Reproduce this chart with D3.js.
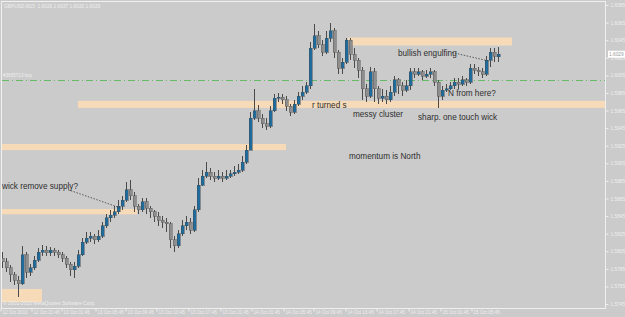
<!DOCTYPE html>
<html><head><meta charset="utf-8">
<script src="https://cdn.jsdelivr.net/npm/d3@7"></script>
<style>html,body{margin:0;padding:0;background:#cbcbcb;overflow:hidden}svg{display:block}</style>
</head><body><svg id="c" width="625" height="317"></svg>
<script>
const symbolTitle = "GBPUSD,M15  1.6026 1.6037 1.6020 1.6029";
const copyrightText = "\u00a9 2001-2010 MetaQuotes Software Corp.";
const orderText = "#3685713 buy";

const openPrices = [1.5797,1.5793,1.5786,1.5778,1.5772,1.5768,1.5801,1.5781,1.5786,1.5795,
 1.5804,1.5806,1.5803,1.5806,1.5804,1.5801,1.5797,1.5790,1.5784,1.5788,
 1.5801,1.5815,1.5820,1.5822,1.5818,1.5822,1.5834,1.5843,1.5846,1.5850,
 1.5856,1.5863,1.5875,1.5868,1.5856,1.5852,1.5861,1.5854,1.5850,1.5845,
 1.5840,1.5838,1.5836,1.5818,1.5811,1.5825,1.5834,1.5838,1.5829,1.5852,
 1.5880,1.5890,1.5895,1.5890,1.5888,1.5890,1.5888,1.5890,1.5893,1.5895,
 1.5897,1.5906,1.5920,1.5956,1.5965,1.5956,1.5950,1.5947,1.5965,1.5979,
 1.5980,1.5977,1.5970,1.5963,1.5972,1.5981,1.5986,1.5993,1.6036,1.6050,
 1.6040,1.6031,1.6047,1.6056,1.6031,1.6013,1.6020,1.6045,1.6029,1.6022,
 1.6011,1.5990,1.5981,1.6009,1.5990,1.5979,1.5981,1.5977,1.5986,1.6000,
 1.5993,1.5988,1.5993,1.6009,1.6006,1.6009,1.6004,1.6006,1.6009,1.5997,
 1.5981,1.5988,1.5990,1.5993,1.5997,1.5995,1.6000,1.5997,1.6013,1.6011,
 1.6009,1.6006,1.6022,1.6031,1.6026];
const highPrices = [1.5804,1.5797,1.5789,1.5781,1.5777,1.5811,1.5804,1.5790,1.5800,1.5809,
 1.5812,1.5811,1.5810,1.5809,1.5806,1.5804,1.5800,1.5793,1.5793,1.5806,
 1.5820,1.5827,1.5827,1.5825,1.5829,1.5838,1.5847,1.5852,1.5856,1.5863,
 1.5868,1.5884,1.5886,1.5872,1.5859,1.5865,1.5865,1.5856,1.5852,1.5850,
 1.5845,1.5843,1.5838,1.5822,1.5829,1.5840,1.5845,1.5843,1.5857,1.5888,
 1.5897,1.5906,1.5900,1.5895,1.5897,1.5895,1.5897,1.5897,1.5902,1.5904,
 1.5913,1.5926,1.5963,1.5990,1.5971,1.5961,1.5956,1.5970,1.5984,1.5985,
 1.5984,1.5981,1.5972,1.5977,1.5986,1.5993,1.5997,1.6043,1.6063,1.6056,
 1.6045,1.6056,1.6065,1.6059,1.6034,1.6025,1.6048,1.6047,1.6036,1.6025,
 1.6015,1.5995,1.6015,1.6013,1.5993,1.5990,1.5988,1.5993,1.6004,1.6002,
 1.5997,1.6000,1.6013,1.6013,1.6013,1.6011,1.6011,1.6013,1.6011,1.6000,
 1.5993,1.5995,1.5997,1.6002,1.6002,1.6004,1.6002,1.6018,1.6018,1.6015,
 1.6013,1.6027,1.6036,1.6036,1.6037];
const lowPrices = [1.5786,1.5781,1.5770,1.5767,1.5753,1.5767,1.5775,1.5777,1.5784,1.5793,
 1.5800,1.5800,1.5800,1.5800,1.5797,1.5793,1.5786,1.5777,1.5775,1.5786,
 1.5800,1.5813,1.5815,1.5813,1.5815,1.5820,1.5831,1.5838,1.5843,1.5847,
 1.5852,1.5861,1.5863,1.5850,1.5847,1.5850,1.5847,1.5843,1.5838,1.5834,
 1.5831,1.5827,1.5809,1.5804,1.5809,1.5822,1.5829,1.5825,1.5827,1.5850,
 1.5879,1.5888,1.5886,1.5884,1.5886,1.5884,1.5886,1.5888,1.5890,1.5893,
 1.5895,1.5904,1.5920,1.5954,1.5952,1.5945,1.5943,1.5945,1.5963,1.5975,
 1.5972,1.5965,1.5959,1.5961,1.5970,1.5977,1.5984,1.5990,1.6034,1.6036,
 1.6027,1.6029,1.6043,1.6025,1.6006,1.6006,1.6018,1.6022,1.6013,1.6002,
 1.5977,1.5975,1.5979,1.5975,1.5972,1.5975,1.5972,1.5975,1.5981,1.5984,
 1.5981,1.5986,1.5988,1.6002,1.6004,1.6000,1.6002,1.6002,1.5993,1.5968,
 1.5977,1.5986,1.5988,1.5990,1.5990,1.5993,1.5993,1.5995,1.6006,1.6004,
 1.6002,1.6004,1.6015,1.6020,1.6020];
const closePrices = [1.5793,1.5786,1.5778,1.5772,1.5768,1.5801,1.5781,1.5786,1.5795,1.5804,
 1.5806,1.5803,1.5806,1.5804,1.5801,1.5797,1.5790,1.5784,1.5788,1.5801,
 1.5815,1.5820,1.5822,1.5818,1.5822,1.5834,1.5843,1.5846,1.5850,1.5856,
 1.5863,1.5875,1.5868,1.5856,1.5852,1.5861,1.5854,1.5850,1.5845,1.5840,
 1.5838,1.5836,1.5818,1.5811,1.5825,1.5834,1.5838,1.5829,1.5852,1.5880,
 1.5890,1.5895,1.5890,1.5888,1.5890,1.5888,1.5890,1.5893,1.5895,1.5897,
 1.5906,1.5920,1.5956,1.5965,1.5956,1.5950,1.5947,1.5965,1.5979,1.5980,
 1.5977,1.5970,1.5963,1.5972,1.5981,1.5986,1.5993,1.6036,1.6050,1.6040,
 1.6031,1.6047,1.6056,1.6031,1.6013,1.6020,1.6045,1.6029,1.6022,1.6011,
 1.5990,1.5981,1.6009,1.5990,1.5979,1.5981,1.5977,1.5986,1.6000,1.5993,
 1.5988,1.5993,1.6009,1.6006,1.6009,1.6004,1.6006,1.6009,1.5997,1.5981,
 1.5988,1.5990,1.5993,1.5997,1.5995,1.6000,1.5997,1.6013,1.6011,1.6009,
 1.6006,1.6022,1.6031,1.6027,1.6029];

const priceTicks = [1.6085,1.6065,1.6045,1.6025,1.6005,1.5985,1.5965,1.5945,1.5925,1.5905,1.5885,1.5865,1.5845,1.5825,1.5805,1.5785,1.5765,1.5745];
const timeLabels = ["12 Oct 2010","12 Oct 21:45","13 Oct 01:45","13 Oct 05:45","13 Oct 09:45","13 Oct 13:45","13 Oct 17:45","13 Oct 21:45","14 Oct 01:45","14 Oct 05:45","14 Oct 09:45","14 Oct 13:45","14 Oct 17:45","14 Oct 21:45","15 Oct 01:45","15 Oct 05:45"];
const timeLabelBars = [0,7.75,15.25,23.75,31.25,39,47,55,62.75,70.75,78.25,86.25,94,102,110,117.75];

const zoneHigh  = [1.5762, 1.5853, 1.5927, 1.5976, 1.6048];
const zoneLow   = [1.5747, 1.5847, 1.5920, 1.5968, 1.6039];
const zoneStart = [-5, -5, -5, 19, 86.5];
const zoneEnd   = [10, 33.75, 71, 160, 127.5];

const orderLevel = 1.6000;
const currentPrice = 1.6029;

const noteText  = ["wick remove supply?","r turned s","messy cluster","sharp. one touch wick","N from here?","bullish engulfing","momentum is North"];
const noteBar   = [0, 77.5, 87.75, 104, 111.5, 99, 86.75];
const notePrice = [1.5876, 1.5968, 1.5958, 1.5954, 1.5982, 1.6027, 1.5910];

const pointerFromBar = [16.5, 112.5];
const pointerFromPrice = [1.5875, 1.6031];
const pointerToBar = [29.75, 122];
const pointerToPrice = [1.5854, 1.6021];

// ---- drawing ----
const svg = d3.select("#c");
const plotRight = 605, plotBottom = 308;
const x = d3.scaleLinear().domain([0, 124]).range([2, 498]);
const y = d3.scaleLinear().domain([1.5745, 1.6085]).range([304, 5]);
const fg = "#efefef";

svg.append("rect").attr("width",625).attr("height",317).attr("fill","#cbcbcb");
svg.append("defs").append("clipPath").attr("id","plot")
  .append("rect").attr("x",2).attr("y",2).attr("width",plotRight-2).attr("height",plotBottom-2);

const plot = svg.append("g").attr("clip-path","url(#plot)");

// zones
plot.append("g").selectAll("rect").data(zoneHigh).join("rect")
  .attr("x",(d,i)=>x(zoneStart[i]))
  .attr("width",(d,i)=>x(zoneEnd[i])-x(zoneStart[i]))
  .attr("y",(d)=>y(d))
  .attr("height",(d,i)=>y(zoneLow[i])-y(d))
  .attr("fill","#f7dbb8");

// order line
plot.append("line").attr("x1",2).attr("x2",plotRight)
  .attr("y1",Math.round(y(orderLevel))+0.5).attr("y2",Math.round(y(orderLevel))+0.5)
  .attr("stroke","#66bb66").attr("stroke-width",1).attr("stroke-dasharray","7,3,1,3");
svg.append("text").attr("x",3).attr("y",y(orderLevel)-2.5).text(orderText)
  .attr("font-family","Liberation Sans, Arial, sans-serif").attr("font-size",4.6).attr("fill",fg);

// candles
const idx = d3.range(closePrices.length);
const cg = plot.append("g").attr("shape-rendering","crispEdges");
cg.selectAll("line").data(idx).join("line")
  .attr("x1",i=>Math.round(x(i))+0.5).attr("x2",i=>Math.round(x(i))+0.5)
  .attr("y1",i=>y(highPrices[i])).attr("y2",i=>y(lowPrices[i]))
  .attr("stroke","#4a4a4a").attr("stroke-width",1);
cg.selectAll("rect").data(idx).join("rect")
  .attr("x",i=>Math.round(x(i))-1).attr("width",3)
  .attr("y",i=>y(Math.max(openPrices[i],closePrices[i])))
  .attr("height",i=>Math.max(1, Math.abs(y(openPrices[i])-y(closePrices[i]))))
  .attr("fill",i=>closePrices[i]>=openPrices[i] ? "#1f6c9c" : "#8e8e8e")
  .attr("stroke",i=>closePrices[i]>=openPrices[i] ? "#3d4d58" : "#5a5a5a").attr("stroke-width",0.5);

// annotations
const ann = plot.append("g").attr("font-family","Liberation Sans, Arial, sans-serif").attr("font-size",8.2).attr("fill","#2e2e2e");
ann.selectAll("text").data(noteText).join("text")
  .attr("x",(d,i)=>x(noteBar[i])).attr("y",(d,i)=>y(notePrice[i])).text(d=>d);
plot.append("g").selectAll("line").data(pointerFromBar).join("line")
  .attr("x1",d=>x(d)).attr("y1",(d,i)=>y(pointerFromPrice[i]))
  .attr("x2",(d,i)=>x(pointerToBar[i])).attr("y2",(d,i)=>y(pointerToPrice[i]))
  .attr("stroke","#3a3a3a").attr("stroke-width",0.8).attr("stroke-dasharray","1.5,1.5");

// frame
svg.append("rect").attr("x",1.5).attr("y",1.5).attr("width",plotRight-1.5).attr("height",plotBottom-1.5)
  .attr("fill","none").attr("stroke",fg).attr("stroke-width",1).attr("shape-rendering","crispEdges");

// price axis
const ya = svg.append("g").attr("transform",`translate(${plotRight+0.5},0)`)
  .call(d3.axisRight(y).tickValues(priceTicks).tickSize(3).tickPadding(2).tickFormat(d3.format(".4f")));
ya.select(".domain").remove();
ya.selectAll("line").attr("stroke",fg);
ya.selectAll("text").attr("fill",fg).attr("font-size",4.8).attr("font-family","Liberation Sans, Arial, sans-serif");

// current price marker
const cy = y(currentPrice);
svg.append("rect").attr("x",plotRight+3).attr("y",cy-3.5).attr("width",17).attr("height",7).attr("fill","#ffffff");
svg.append("text").attr("x",plotRight+4).attr("y",cy+1.7).text(d3.format(".4f")(currentPrice))
  .attr("font-size",4.8).attr("font-family","Liberation Sans, Arial, sans-serif").attr("fill","#9a9a9a");

// time axis
const xa = svg.append("g").attr("transform",`translate(0,${plotBottom+0.5})`)
  .call(d3.axisBottom(x).tickValues(timeLabelBars).tickSize(3).tickFormat((d,i)=>timeLabels[i]));
xa.select(".domain").remove();
xa.selectAll("line").attr("stroke",fg).attr("transform","translate(-1.5,0)");
xa.selectAll("text").attr("fill",fg).attr("font-size",4.6).attr("font-family","Liberation Sans, Arial, sans-serif")
  .attr("text-anchor","start").attr("dy","0.3em").attr("y",4.5).attr("x",0);

// title & copyright
svg.append("text").attr("x",4).attr("y",8).text(symbolTitle)
  .attr("font-size",4.8).attr("font-family","Liberation Sans, Arial, sans-serif").attr("fill",fg).attr("xml:space","preserve");
svg.append("text").attr("x",3).attr("y",305).text(copyrightText)
  .attr("font-size",5).attr("font-family","Liberation Sans, Arial, sans-serif").attr("fill",fg);
</script></body></html>
